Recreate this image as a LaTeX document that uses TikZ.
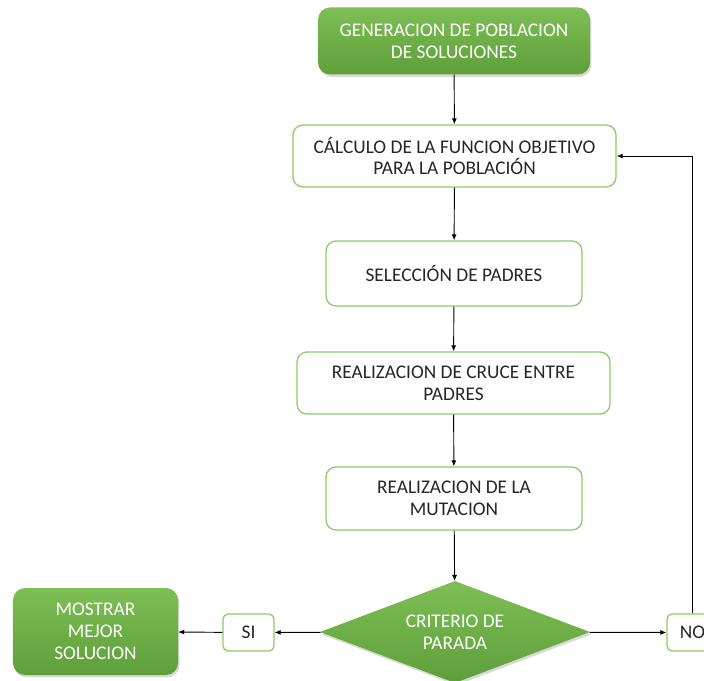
\documentclass[tikz,border=0pt]{standalone}
\usepackage{fontspec}
\setmainfont{Carlito}
\usetikzlibrary{positioning,arrows.meta,shapes.geometric,shadows}

\definecolor{verdeclaro}{HTML}{7DBE55}
\definecolor{verdeoscuro}{HTML}{5E9F3A}
\definecolor{borde}{HTML}{8CCB68}
\definecolor{texto}{HTML}{262626}

\begin{document}
\begin{tikzpicture}[
  x=0.03cm, y=-0.03cm,
  font=\fontsize{16.5}{18.7}\selectfont,
  caja/.style={draw=borde, line width=1.1pt, fill=white, rounded corners=0.3cm, align=center, text=texto},
  verde/.style={top color=verdeclaro, bottom color=verdeoscuro, draw=none, rounded corners=0.36cm, align=center, text=white,
    drop shadow={shadow xshift=1.2pt, shadow yshift=-2pt, opacity=0.3}},
  etiqueta/.style={caja, rounded corners=0.15cm, minimum width=1.53cm, minimum height=1.11cm, inner sep=0pt},
  arrow/.style={-{Latex[length=1.8mm, width=1.5mm]}, line width=0.8pt}
]
\useasboundingbox (0,0) rectangle (704,681);
\clip (0,0) rectangle (704,681);

\node[verde, minimum width=8.16cm, minimum height=2.01cm] (gen) at (454,41) {GENERACION DE POBLACION\\DE SOLUCIONES};
\node[caja, minimum width=9.69cm, minimum height=1.86cm] (calc) at (454.5,156) {CÁLCULO DE LA FUNCION OBJETIVO\\PARA LA POBLACIÓN};
\node[caja, minimum width=7.68cm, minimum height=1.95cm] (sel) at (454,273.5) {SELECCIÓN DE PADRES};
\node[caja, minimum width=9.39cm, minimum height=1.86cm] (cruce) at (453.5,383) {REALIZACION DE CRUCE ENTRE\\PADRES};
\node[caja, minimum width=7.68cm, minimum height=1.89cm] (mut) at (454,498.5) {REALIZACION DE LA\\MUTACION};
\node[verde, diamond, aspect=2.65, rounded corners=0pt, inner sep=0pt, minimum width=8.1cm, minimum height=3.06cm] (crit) at (455,632) {CRITERIO DE\\PARADA};
\node[etiqueta] (si) at (248.5,632.5) {SI};
\node[etiqueta] (no) at (692.5,632.5) {NO};
\node[verde, minimum width=4.95cm, minimum height=2.61cm] (mostrar) at (95.5,631.5) {MOSTRAR\\MEJOR\\SOLUCION};

\draw[arrow] (gen) -- (calc);
\draw[arrow] (calc) -- (sel);
\draw[arrow] (sel) -- (cruce);
\draw[arrow] (cruce) -- (mut);
\draw[arrow] (mut) -- (crit);
\draw[arrow] (crit) -- (si);
\draw[arrow] (si) -- (mostrar);
\draw[arrow] (crit) -- (no);
\draw[arrow] (no.north) |- (calc.east);
\end{tikzpicture}
\end{document}
